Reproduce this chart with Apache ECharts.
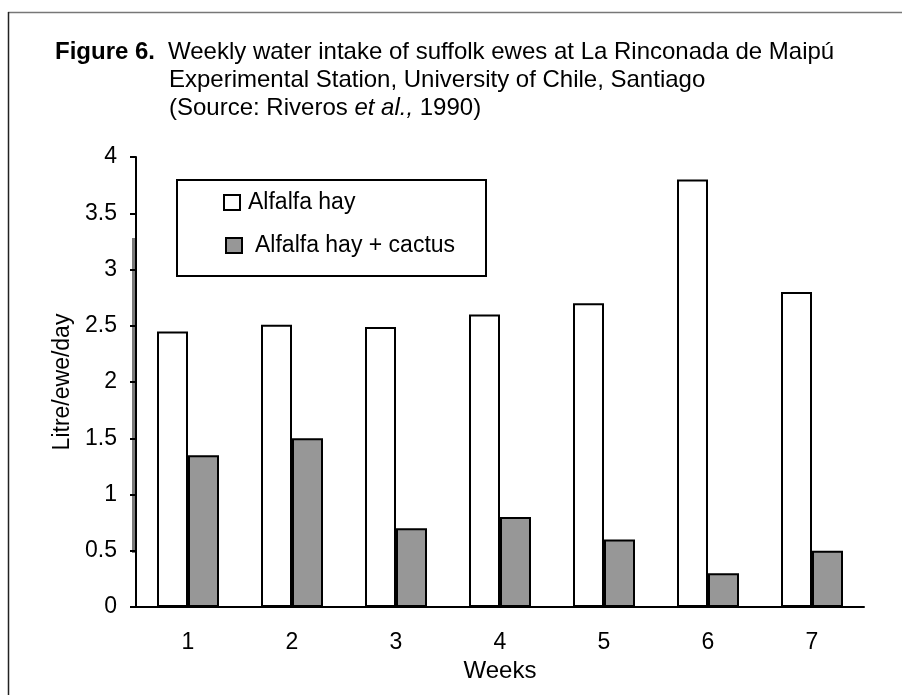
<!DOCTYPE html>
<html>
<head>
<meta charset="utf-8">
<script src="https://cdn.jsdelivr.net/npm/echarts@6/dist/echarts.min.js"></script>
<style>
html,body{margin:0;padding:0;background:#fff;}
#chart{width:902px;height:695px;}
</style>
</head>
<body>
<div id="chart"></div>
<script>
const weeks = ['1', '2', '3', '4', '5', '6', '7'];
const alfalfaHay = [2.45, 2.51, 2.49, 2.6, 2.7, 3.8, 2.8];
const alfalfaHayCactus = [1.35, 1.5, 0.7, 0.8, 0.6, 0.3, 0.5];
const seriesNames = ['Alfalfa hay', 'Alfalfa hay + cactus'];
const yTicks = [0, 0.5, 1, 1.5, 2, 2.5, 3, 3.5, 4];

const chart = echarts.init(document.getElementById('chart'), null, {renderer: 'canvas'});
const FONT = '"Liberation Sans", Arial, sans-serif';
const TF = 24;

chart.setOption({
  animation: false,
  backgroundColor: '#fff',
  textStyle: {fontFamily: FONT, color: '#000'},
  graphic: [
    {type: 'line', silent: true, shape: {x1: 8, y1: 12.5, x2: 902, y2: 12.5}, style: {stroke: '#777', lineWidth: 1.5}},
    {type: 'line', silent: true, shape: {x1: 8.5, y1: 12, x2: 8.5, y2: 695}, style: {stroke: '#222', lineWidth: 1.5}},
    {type: 'rect', silent: true, shape: {x: 132, y: 238, width: 3, height: 315}, style: {fill: '#7a7a7a'}},
    {type: 'text', x: 55, y: 52, style: {text: 'Figure 6.', font: 'bold ' + TF + 'px ' + FONT, fill: '#000', verticalAlign: 'middle'}},
    {type: 'text', x: 168, y: 52, style: {text: 'Weekly water intake of suffolk ewes at La Rinconada de Maipú', font: TF + 'px ' + FONT, fill: '#000', verticalAlign: 'middle'}},
    {type: 'text', x: 169, y: 80.5, style: {text: 'Experimental Station, University of Chile, Santiago', font: TF + 'px ' + FONT, fill: '#000', verticalAlign: 'middle'}},
    {type: 'text', x: 169, y: 108.5, style: {
      verticalAlign: 'middle',
      rich: {n: {font: TF + 'px ' + FONT, fill: '#000'}, i: {font: 'italic ' + TF + 'px ' + FONT, fill: '#000'}},
      text: '{n|(Source: Riveros }{i|et al.,}{n| 1990)}'
    }},
    {type: 'rect', silent: true, shape: {x: 177, y: 180, width: 309, height: 96}, style: {fill: 'none', stroke: '#000', lineWidth: 2}, z: 5}
  ],
  legend: [
    {
      data: [seriesNames[0]], left: 223, top: 191, padding: 0,
      icon: 'rect', itemWidth: 16, itemHeight: 15,
      textStyle: {fontSize: 23, fontFamily: FONT, color: '#000', padding: [0, 0, 0, 3]}
    },
    {
      data: [seriesNames[1]], left: 225, top: 234, padding: 0,
      icon: 'rect', itemWidth: 16, itemHeight: 15,
      textStyle: {fontSize: 23, fontFamily: FONT, color: '#000', padding: [0, 0, 0, 8]}
    }
  ],
  grid: {left: 136, right: 38, top: 157, bottom: 88, containLabel: false},
  xAxis: {
    type: 'category',
    data: weeks,
    name: 'Weeks',
    nameLocation: 'middle',
    nameGap: 49,
    nameTextStyle: {fontSize: 24, fontFamily: FONT, color: '#000'},
    axisLine: {lineStyle: {color: '#000', width: 2}},
    axisTick: {length: 8, lineStyle: {color: '#000', width: 2}},
    axisLabel: {fontSize: 23, fontFamily: FONT, color: '#000', margin: 24}
  },
  yAxis: {
    type: 'value',
    min: yTicks[0], max: yTicks[yTicks.length - 1], interval: yTicks[1] - yTicks[0],
    name: 'Litre/ewe/day',
    nameLocation: 'middle',
    nameGap: 54,
    nameRotate: 90,
    nameTextStyle: {fontSize: 23, fontFamily: FONT, color: '#000'},
    axisLine: {show: true, lineStyle: {color: '#000', width: 2}},
    axisTick: {show: true, length: 6, lineStyle: {color: '#000', width: 2}},
    axisLabel: {fontSize: 23, fontFamily: FONT, color: '#000', margin: 19},
    splitLine: {show: false}
  },
  series: [
    {
      name: seriesNames[0], type: 'bar', data: alfalfaHay,
      barWidth: 31, barGap: '0%',
      itemStyle: {color: '#ffffff', borderColor: '#000', borderWidth: 2}
    },
    {
      name: seriesNames[1], type: 'bar', data: alfalfaHayCactus,
      barWidth: 31, barGap: '0%',
      itemStyle: {color: '#979797', borderColor: '#000', borderWidth: 2}
    }
  ]
});
</script>
</body>
</html>
